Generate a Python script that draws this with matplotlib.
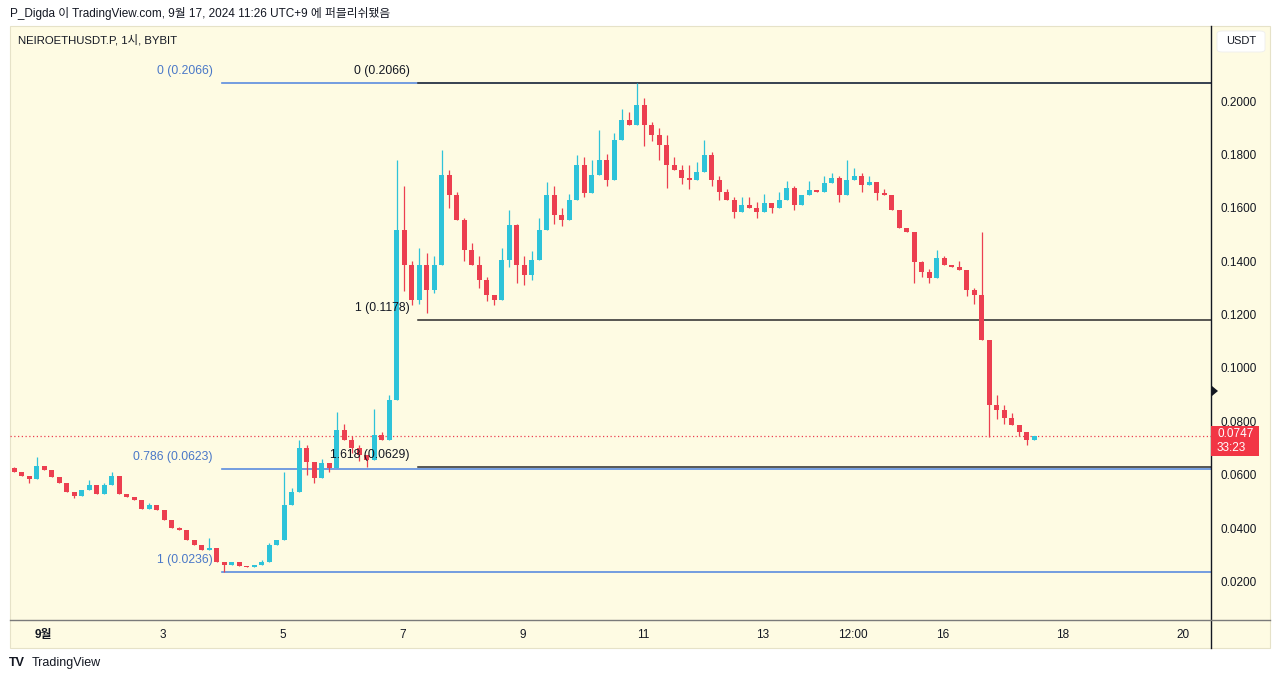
import matplotlib.pyplot as plt
from matplotlib.patches import Rectangle, FancyBboxPatch, Polygon
from matplotlib.lines import Line2D
import numpy as np

plt.rcParams['font.family'] = ['Liberation Sans', 'Noto Sans CJK KR', 'DejaVu Sans']

# 3-hour candles, hours counted from Sep 1 00:00 (first candle opens Aug 31 11:00)
start_hour = -13
step = 3
first_open = 0.0626
closes = [
    0.0610, 0.0596, 0.0585, 0.0633, 0.0618, 0.0592, 0.0570, 0.0536, 0.0521, 0.0543,
    0.0562, 0.0528, 0.0562, 0.0596, 0.0528, 0.0517, 0.0506, 0.0472, 0.0487, 0.0468,
    0.0431, 0.0401, 0.0393, 0.0356, 0.0337, 0.0318, 0.0326, 0.0274, 0.0262, 0.0274,
    0.0259, 0.0255, 0.0262, 0.0274, 0.0337, 0.0356, 0.0487, 0.0536, 0.0700, 0.0648,
    0.0588, 0.0644, 0.0626, 0.0768, 0.0730, 0.0700, 0.0674, 0.0656, 0.0749, 0.0730,
    0.0880, 0.1517, 0.1386, 0.1255, 0.1386, 0.1292, 0.1386, 0.1723, 0.1648, 0.1554,
    0.1442, 0.1386, 0.1330, 0.1273, 0.1255, 0.1405, 0.1536, 0.1386, 0.1348, 0.1405,
    0.1517, 0.1648, 0.1573, 0.1554, 0.1629, 0.1760, 0.1655, 0.1723, 0.1779, 0.1704,
    0.1854, 0.1929, 0.1910, 0.1985, 0.1910, 0.1873, 0.1835, 0.1760, 0.1742, 0.1712,
    0.1704, 0.1734, 0.1798, 0.1704, 0.1659, 0.1629, 0.1584, 0.1610, 0.1599, 0.1584,
    0.1618, 0.1599, 0.1629, 0.1674, 0.1610, 0.1648, 0.1667, 0.1659, 0.1693, 0.1712,
    0.1648, 0.1704, 0.1719, 0.1685, 0.1697, 0.1655, 0.1648, 0.1592, 0.1524, 0.1509,
    0.1397, 0.1360, 0.1337, 0.1412, 0.1386, 0.1378, 0.1367, 0.1292, 0.1273, 0.1105,
    0.0861, 0.0843, 0.0813, 0.0787, 0.0760, 0.0730, 0.0747,
]
# wick extremes by candle index (where the wick sticks out of the body)
wick_highs = {
    0: 0.0630, 3: 0.0667, 5: 0.0605, 10: 0.0580, 12: 0.0570, 13: 0.0611, 18: 0.0495,
    20: 0.0450, 22: 0.0405, 24: 0.0345, 26: 0.0363, 30: 0.0270, 33: 0.0282, 34: 0.0345,
    36: 0.0611, 37: 0.0550, 38: 0.0730, 39: 0.0710, 41: 0.0660, 43: 0.0835, 44: 0.0790,
    45: 0.0745, 46: 0.0710, 48: 0.0845, 49: 0.0760, 50: 0.0900, 51: 0.1779, 52: 0.1680,
    53: 0.1400, 54: 0.1450, 55: 0.1430, 56: 0.1420, 57: 0.1817, 58: 0.1740, 59: 0.1660,
    60: 0.1560, 61: 0.1470, 62: 0.1420, 63: 0.1340, 65: 0.1450, 66: 0.1590, 67: 0.1540,
    68: 0.1420, 69: 0.1440, 70: 0.1560, 71: 0.1697, 72: 0.1680, 73: 0.1600, 74: 0.1650,
    75: 0.1798, 76: 0.1790, 77: 0.1780, 78: 0.1891, 79: 0.1800, 80: 0.1880, 81: 0.1970,
    82: 0.1960, 83: 0.2066, 84: 0.2010, 85: 0.1920, 86: 0.1900, 87: 0.1873, 88: 0.1790,
    89: 0.1760, 90: 0.1760, 91: 0.1770, 92: 0.1854, 93: 0.1810, 94: 0.1720, 95: 0.1670,
    96: 0.1640, 97: 0.1640, 98: 0.1640, 99: 0.1620, 100: 0.1650, 102: 0.1660, 103: 0.1700,
    104: 0.1680, 106: 0.1700, 108: 0.1720, 109: 0.1730, 110: 0.1720, 111: 0.1779,
    112: 0.1750, 113: 0.1730, 114: 0.1720, 116: 0.1670, 118: 0.1560, 121: 0.1400,
    122: 0.1370, 123: 0.1442, 124: 0.1420, 126: 0.1400, 128: 0.1300, 129: 0.1509,
    131: 0.0900, 132: 0.0860, 133: 0.0830,
}
wick_lows = {
    2: 0.0569, 8: 0.0513, 28: 0.0236, 39: 0.0600, 40: 0.0570, 42: 0.0610, 45: 0.0680,
    46: 0.0650, 47: 0.0629, 52: 0.1290, 53: 0.1236, 54: 0.1240, 55: 0.1206, 56: 0.1280,
    58: 0.1600, 60: 0.1400, 62: 0.1300, 63: 0.1250, 64: 0.1236, 66: 0.1380, 67: 0.1320,
    68: 0.1310, 69: 0.1330, 72: 0.1540, 73: 0.1530, 76: 0.1640, 79: 0.1680, 84: 0.1830,
    85: 0.1850, 86: 0.1780, 87: 0.1674, 89: 0.1690, 90: 0.1670, 93: 0.1680, 94: 0.1630,
    96: 0.1560, 99: 0.1560, 101: 0.1580, 104: 0.1590, 110: 0.1620, 113: 0.1660,
    115: 0.1630, 120: 0.1318, 121: 0.1340, 122: 0.1320, 127: 0.1270, 128: 0.1240,
    130: 0.0742, 131: 0.0810, 132: 0.0790, 134: 0.0745, 135: 0.0712,
}

# fib retracements
blue_levels = [0, 0.786, 1]
blue_prices = [0.2066, 0.0623, 0.0236]
black_levels = [0, 1, 1.618]
black_prices = [0.2066, 0.1178, 0.0629]
blue_start = 71.5
black_start = 150

last_price = 0.0747
countdown = '33:23'

tick_hours = [0, 48, 96, 144, 192, 240, 288, 324, 360, 408, 456]
tick_labels = ['9월', '3', '5', '7', '9', '11', '13', '12:00', '16', '18', '20']
price_ticks = [0.02, 0.04, 0.06, 0.08, 0.10, 0.12, 0.14, 0.16, 0.18, 0.20]

UP = '#2ec3d9'
DOWN = '#ec3f50'
BG = '#fefbe3'
TXT = '#131722'
FIB_BLUE = '#5b8cdf'

W, H = 1280, 681


def fx(px):
    return px / W


def fy(py):
    return 1 - py / H


fig = plt.figure(figsize=(W / 100, H / 100), dpi=100, facecolor='white')

# chart panel background
fig.add_artist(Rectangle((fx(10), fy(648)), (1270 - 10) / W, (648 - 26) / H,
                         transform=fig.transFigure, facecolor=BG,
                         edgecolor='#e6e2c8', linewidth=0.8, zorder=0))

ax = fig.add_axes([fx(10), fy(620), (1211 - 10) / W, (620 - 26) / H])
ax.set_facecolor('none')
for s in ax.spines.values():
    s.set_visible(False)

# candles
opens = [first_open] + closes[:-1]
hours = start_hour + step * np.arange(len(closes)) + step / 2
highs = [max(wick_highs.get(i, 0), o, c) for i, (o, c) in enumerate(zip(opens, closes))]
lows = [min(wick_lows.get(i, 1), o, c) for i, (o, c) in enumerate(zip(opens, closes))]
colors = [UP if c >= o else DOWN for o, c in zip(opens, closes)]
bottoms = [min(o, c) for o, c in zip(opens, closes)]
heights = [max(abs(c - o), 0.0003) for o, c in zip(opens, closes)]

ax.vlines(hours, lows, highs, colors=colors, linewidth=0.9, zorder=3)
ax.bar(hours, heights, bottom=bottoms, width=1.9, color=colors, linewidth=0, zorder=4)

# fib lines
x_right = 467.2
for lvl, p in zip(blue_levels, blue_prices):
    ax.plot([blue_start, x_right], [p, p], color=FIB_BLUE, linewidth=1.2, zorder=2)
    ax.annotate(f'{lvl:g} ({p:.4f})', xy=(blue_start, p), xytext=(-9, 12),
                textcoords='offset pixels', ha='right', va='center',
                fontsize=8.8, color='#4a78c8', zorder=5)
for lvl, p in zip(black_levels, black_prices):
    ax.plot([black_start, x_right], [p, p], color='#2a2a2a', linewidth=1.1, zorder=2)
    ax.annotate(f'{lvl:g} ({p:.4f})', xy=(black_start, p), xytext=(-8, 12),
                textcoords='offset pixels', ha='right', va='center',
                fontsize=8.8, color=TXT, zorder=5)

# last price line
ax.axhline(last_price, color=DOWN, linewidth=0.9, linestyle=(0, (1, 2)), zorder=1)

ax.set_xlim(-13.2, x_right)
ax.set_ylim(0.0056, 0.2281)

ax.set_xticks(tick_hours)
ax.set_xticklabels(tick_labels)
ax.get_xticklabels()[0].set_fontweight('bold')
ax.tick_params(axis='x', length=0, pad=6.5, labelsize=8.5, labelcolor=TXT)

ax.yaxis.tick_right()
ax.set_yticks(price_ticks)
ax.set_yticklabels([f'{v:.4f}' for v in price_ticks])
ax.tick_params(axis='y', length=0, pad=6.5, labelsize=8.5, labelcolor=TXT)

# panel separators
fig.add_artist(Line2D([fx(1211), fx(1211)], [fy(26), fy(648)], color='#131722',
                      linewidth=1.0, transform=fig.transFigure))
fig.add_artist(Line2D([fx(10), fx(1270)], [fy(620), fy(620)], color='#7a7a7a',
                      linewidth=1.0, transform=fig.transFigure))

# last price tag
fig.add_artist(Rectangle((fx(1211), fy(456)), 48 / W, 30 / H, transform=fig.transFigure,
                         facecolor='#f23645', edgecolor='none', zorder=6))
fig.text(fx(1217), fy(434), f'{last_price:.4f}', color='white', fontsize=8.5,
         va='center', ha='left', zorder=7)
fig.text(fx(1217), fy(448), countdown, color='white', fontsize=8.5,
         va='center', ha='left', zorder=7)

# scale marker
fig.add_artist(Polygon([(fx(1212), fy(386)), (fx(1212), fy(396)), (fx(1218), fy(391))],
                       closed=True, transform=fig.transFigure, facecolor='#131722',
                       edgecolor='none'))

# currency box
fig.add_artist(FancyBboxPatch((fx(1217), fy(52)), 48 / W, 21 / H,
                              boxstyle='round,pad=0,rounding_size=0.004',
                              transform=fig.transFigure, facecolor='white',
                              edgecolor='#eeeeee', linewidth=0.6))
fig.text(fx(1241), fy(41), 'USDT', fontsize=8, color=TXT, ha='center', va='center')

# header texts
fig.text(fx(10), fy(13), 'P_Digda 이 TradingView.com, 9월 17, 2024 11:26 UTC+9 에 퍼블리쉬됐음',
         fontsize=8.5, color=TXT, va='center', ha='left')
fig.text(fx(18), fy(40), 'NEIROETHUSDT.P, 1시, BYBIT', fontsize=8.2, color=TXT,
         va='center', ha='left')

# footer logo
fig.text(fx(9), fy(663), 'TV', fontsize=9, fontweight='bold', color=TXT, va='center')
fig.text(fx(32), fy(663), 'TradingView', fontsize=9, color=TXT, va='center')

fig.savefig('out.png', dpi=100, facecolor='white')
